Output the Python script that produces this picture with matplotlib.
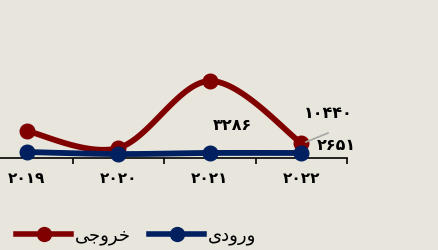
import numpy as np
import matplotlib
matplotlib.use("Agg")
import matplotlib.pyplot as plt
from matplotlib.lines import Line2D

# ---- data ----
years = ["۲۰۱۹", "۲۰۲۰", "۲۰۲۱", "۲۰۲۲"]
outgoing = [3660, 1360, 10440, 2030]   # خروجی
incoming = [810, 540, 680, 680]        # ورودی
label_texts = ["۱۰۴۴۰", "۲۶۵۱", "۳۲۸۶"]
legend_out = "\uFBFD\uFE9F\uFEED\uFEAE\uFEA7"   # خروجی (shaped, visual order)
legend_in = "\uFBFC\uFEA9\uFEED\uFEAD\uFEED"    # ورودی (shaped, visual order)

BG = "#E8E6DC"
RED = "#800000"
BLUE = "#002060"

def smooth(xs, ys, n=40):
    xs = np.asarray(xs, float); ys = np.asarray(ys, float)
    P = np.column_stack([xs, ys])
    Pe = np.vstack([P[0], P, P[-1]])
    out = []
    for i in range(len(P) - 1):
        p0, p1, p2, p3 = Pe[i], Pe[i + 1], Pe[i + 2], Pe[i + 3]
        c1 = p1 + (p2 - p0) / 6.0
        c2 = p2 - (p3 - p1) / 6.0
        t = np.linspace(0, 1, n)[:, None]
        seg = (1 - t) ** 3 * p1 + 3 * (1 - t) ** 2 * t * c1 + 3 * (1 - t) * t ** 2 * c2 + t ** 3 * p2
        out.append(seg if i == 0 else seg[1:])
    s = np.vstack(out)
    return s[:, 0], s[:, 1]

fig = plt.figure(figsize=(4.39, 2.5), dpi=100, facecolor=BG)
ax = fig.add_axes([-19 / 439, 92 / 250, 366 / 439, 88.5 / 250])
ax.set_facecolor(BG)
ax.patch.set_alpha(0)

x = np.arange(len(years))
for vals, col in [(outgoing, RED), (incoming, BLUE)]:
    sx, sy = smooth(x, vals)
    ax.plot(sx, sy, color=col, lw=4.2, solid_capstyle="round", clip_on=False, zorder=3)
    ax.plot(x, vals, "o", color=col, ms=10.5, clip_on=False, zorder=4)

ax.set_xlim(-0.5, 3.5)
ax.set_ylim(0, 12000)
for s in ["left", "right", "top"]:
    ax.spines[s].set_visible(False)
ax.spines["bottom"].set_color("black")
ax.spines["bottom"].set_linewidth(1.2)
ax.set_yticks([])
ax.set_xticks(x)
ax.set_xticklabels(years, fontsize=11, fontweight="bold", family="DejaVu Sans")
ax.tick_params(axis="x", which="major", length=0, pad=9.5)
ax.set_xticks(np.arange(-0.5, 3.6, 1.0), minor=True)
ax.tick_params(axis="x", which="minor", length=4, width=1.2, color="black")

def ftext(px, py, s):
    fig.text(px / 439, 1 - py / 250, s, fontsize=11.5, fontweight="bold",
             ha="center", va="center", family="DejaVu Sans")
ftext(328, 113, label_texts[0])
ftext(336, 145, label_texts[1])
ftext(232, 125, label_texts[2])
fig.add_artist(Line2D([306 / 439, 328 / 439], [1 - 142 / 250, 1 - 133 / 250],
                      color="#A6A6A6", lw=1.2))

# legend
handles = [Line2D([], [], color=RED, lw=4, marker="o", ms=10),
           Line2D([], [], color=BLUE, lw=4, marker="o", ms=10)]
leg = fig.legend(handles, [legend_out, legend_in], loc="center left",
                 bbox_to_anchor=(11 / 439, 1 - 236 / 250), ncol=2, frameon=False,
                 handlelength=3.05, columnspacing=1.0, handletextpad=0.2,
                 borderaxespad=0, borderpad=0.3,
                 prop={"family": "DejaVu Sans", "size": 13})

fig.savefig("out.png", dpi=100, facecolor=BG)
